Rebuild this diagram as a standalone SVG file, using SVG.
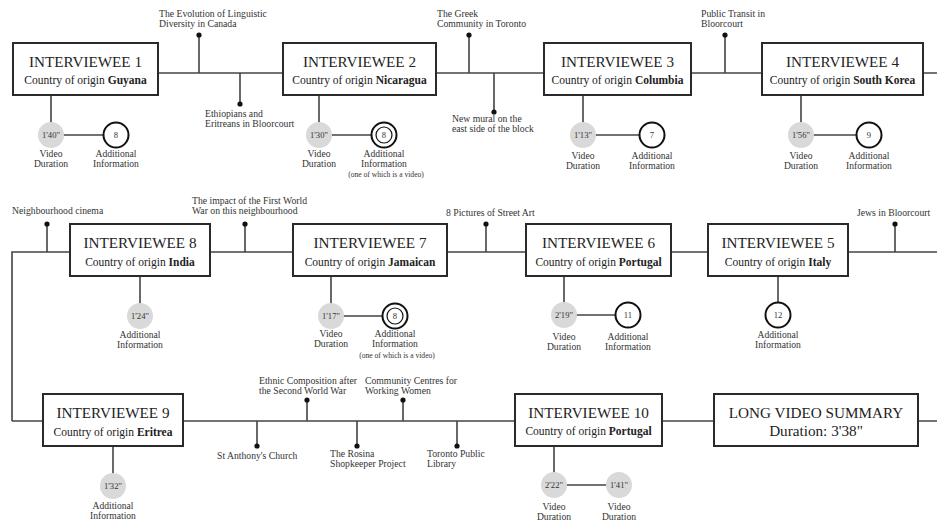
<svg xmlns="http://www.w3.org/2000/svg" width="937" height="521" viewBox="0 0 937 521">
<style>
text{font-family:"Liberation Serif","Times New Roman",serif;fill:#222}
.box{fill:#fff;stroke:#2a2a2a;stroke-width:2}
.t{font-size:15.2px;text-anchor:middle}
.c{font-size:11.5px;text-anchor:middle}
.ln{stroke:#444;stroke-width:1.6;fill:none}
.dot{fill:#111}
.tp{font-size:9.7px;fill:#333}
.lb{font-size:9.6px;text-anchor:middle;fill:#333}
.sm{font-size:7.6px;text-anchor:middle;fill:#333}
.gc{fill:#d9d9d9}
.wc{fill:#fff;stroke:#111;stroke-width:2}
.ic{fill:none;stroke:#111;stroke-width:1.2}
.ct{font-size:8.6px;text-anchor:middle;fill:#333}
</style>
<rect width="937" height="521" fill="#fff"/>
<g id="connectors">
  <path class="ln" d="M158 73H937"/>
  <path class="ln" d="M12 421V252H937"/>
  <path class="ln" d="M12 421H937"/>
  <path class="ln" d="M199 35V73M240 73V104M469 35V73M494 73V112M725 35V73"/>
  <path class="ln" d="M47 224V252M245 224V252M486 224V252M895 224V252"/>
  <path class="ln" d="M257 421V446M307 400V421M357 421V446M403 400V421M457 421V446"/>
  <path class="ln" d="M51 95V135H116"/>
  <path class="ln" d="M319 95V135H384"/>
  <path class="ln" d="M583 95V135H652"/>
  <path class="ln" d="M801 95V135H869"/>
  <path class="ln" d="M140 276V316"/>
  <path class="ln" d="M331 276V316H395"/>
  <path class="ln" d="M564 276V315H628"/>
  <path class="ln" d="M778 276V315"/>
  <path class="ln" d="M113 446V486"/>
  <path class="ln" d="M554 446V485H619"/>
  <g class="dot">
    <circle cx="199" cy="35" r="2.6"/><circle cx="240" cy="104" r="2.6"/>
    <circle cx="469" cy="35" r="2.6"/><circle cx="494" cy="112" r="2.6"/>
    <circle cx="725" cy="35" r="2.6"/>
    <circle cx="47" cy="224" r="2.6"/><circle cx="245" cy="224" r="2.6"/>
    <circle cx="486" cy="224" r="2.6"/><circle cx="895" cy="224" r="2.6"/>
    <circle cx="257" cy="446" r="2.6"/><circle cx="307" cy="400" r="2.6"/>
    <circle cx="357" cy="446" r="2.6"/><circle cx="403" cy="400" r="2.6"/>
    <circle cx="457" cy="446" r="2.6"/>
  </g>
</g>
<g id="topics">
  <text class="tp" x="159" y="17">The Evolution of Linguistic</text>
  <text class="tp" x="159" y="27">Diversity in Canada</text>
  <text class="tp" x="205" y="117">Ethiopians and</text>
  <text class="tp" x="205" y="127">Eritreans in Bloorcourt</text>
  <text class="tp" x="437" y="17">The Greek</text>
  <text class="tp" x="437" y="27">Community in Toronto</text>
  <text class="tp" x="452" y="122">New mural on the</text>
  <text class="tp" x="452" y="132">east side of the block</text>
  <text class="tp" x="701" y="17">Public Transit in</text>
  <text class="tp" x="701" y="27">Bloorcourt</text>
  <text class="tp" x="12" y="214">Neighbourhood cinema</text>
  <text class="tp" x="192" y="204">The impact of the First World</text>
  <text class="tp" x="192" y="214">War on this neighbourhood</text>
  <text class="tp" x="446" y="216">8 Pictures of Street Art</text>
  <text class="tp" x="857" y="216">Jews in Bloorcourt</text>
  <text class="tp" x="259" y="384">Ethnic Composition after</text>
  <text class="tp" x="259" y="394">the Second World War</text>
  <text class="tp" x="365" y="384">Community Centres for</text>
  <text class="tp" x="365" y="394">Working Women</text>
  <text class="tp" x="217" y="459">St Anthony's Church</text>
  <text class="tp" x="330" y="457">The Rosina</text>
  <text class="tp" x="330" y="467">Shopkeeper Project</text>
  <text class="tp" x="427" y="457">Toronto Public</text>
  <text class="tp" x="427" y="467">Library</text>
</g>
<g id="interviewee1">
  <rect class="box" x="13" y="43" width="145" height="52"/>
  <text class="t" x="85.5" y="66.5">INTERVIEWEE 1</text>
  <text class="c" x="85.5" y="83.5">Country of origin <tspan font-weight="bold">Guyana</tspan></text>
  <circle class="gc" cx="51" cy="135" r="13"/><text class="ct" x="51" y="138">1'40"</text>
  <circle class="wc" cx="116" cy="135" r="12.5"/><text class="ct" x="116" y="138">8</text>
  <text class="lb" x="51" y="157">Video</text><text class="lb" x="51" y="167">Duration</text>
  <text class="lb" x="116" y="157">Additional</text><text class="lb" x="116" y="167">Information</text>
</g>
<g id="interviewee2">
  <rect class="box" x="283" y="43" width="153" height="52"/>
  <text class="t" x="359.5" y="66.5">INTERVIEWEE 2</text>
  <text class="c" x="359.5" y="83.5">Country of origin <tspan font-weight="bold">Nicaragua</tspan></text>
  <circle class="gc" cx="319" cy="135" r="13"/><text class="ct" x="319" y="138">1'30"</text>
  <circle class="wc" cx="384" cy="135" r="12.5"/><circle class="ic" cx="384" cy="135" r="8"/><text class="ct" x="384" y="138">8</text>
  <text class="lb" x="319" y="157">Video</text><text class="lb" x="319" y="167">Duration</text>
  <text class="lb" x="384" y="157">Additional</text><text class="lb" x="384" y="167">Information</text>
  <text class="sm" x="386" y="177">(one of which is a video)</text>
</g>
<g id="interviewee3">
  <rect class="box" x="544" y="43" width="147" height="52"/>
  <text class="t" x="617.5" y="66.5">INTERVIEWEE 3</text>
  <text class="c" x="617.5" y="83.5">Country of origin <tspan font-weight="bold">Columbia</tspan></text>
  <circle class="gc" cx="583" cy="135" r="13"/><text class="ct" x="583" y="138">1'13"</text>
  <circle class="wc" cx="652" cy="135" r="12.5"/><text class="ct" x="652" y="138">7</text>
  <text class="lb" x="583" y="159">Video</text><text class="lb" x="583" y="169">Duration</text>
  <text class="lb" x="652" y="159">Additional</text><text class="lb" x="652" y="169">Information</text>
</g>
<g id="interviewee4">
  <rect class="box" x="762" y="43" width="161" height="52"/>
  <text class="t" x="842.5" y="66.5">INTERVIEWEE 4</text>
  <text class="c" x="842.5" y="83.5">Country of origin <tspan font-weight="bold">South Korea</tspan></text>
  <circle class="gc" cx="801" cy="135" r="13"/><text class="ct" x="801" y="138">1'56"</text>
  <circle class="wc" cx="869" cy="135" r="12.5"/><text class="ct" x="869" y="138">9</text>
  <text class="lb" x="801" y="159">Video</text><text class="lb" x="801" y="169">Duration</text>
  <text class="lb" x="869" y="159">Additional</text><text class="lb" x="869" y="169">Information</text>
</g>
<g id="interviewee8">
  <rect class="box" x="70" y="224" width="140" height="52"/>
  <text class="t" x="140" y="247.5">INTERVIEWEE 8</text>
  <text class="c" x="140" y="265.5">Country of origin <tspan font-weight="bold">India</tspan></text>
  <circle class="gc" cx="140" cy="316" r="13"/><text class="ct" x="140" y="319">1'24"</text>
  <text class="lb" x="140" y="338">Additional</text><text class="lb" x="140" y="348">Information</text>
</g>
<g id="interviewee7">
  <rect class="box" x="293" y="224" width="154" height="52"/>
  <text class="t" x="370" y="247.5">INTERVIEWEE 7</text>
  <text class="c" x="370" y="265.5">Country of origin <tspan font-weight="bold">Jamaican</tspan></text>
  <circle class="gc" cx="331" cy="316" r="13"/><text class="ct" x="331" y="319">1'17"</text>
  <circle class="wc" cx="395" cy="316" r="12.5"/><circle class="ic" cx="395" cy="316" r="8"/><text class="ct" x="395" y="319">8</text>
  <text class="lb" x="331" y="337">Video</text><text class="lb" x="331" y="347">Duration</text>
  <text class="lb" x="395" y="337">Additional</text><text class="lb" x="395" y="347">Information</text>
  <text class="sm" x="397" y="358">(one of which is a video)</text>
</g>
<g id="interviewee6">
  <rect class="box" x="526" y="224" width="145" height="52"/>
  <text class="t" x="598.5" y="247.5">INTERVIEWEE 6</text>
  <text class="c" x="598.5" y="265.5">Country of origin <tspan font-weight="bold">Portugal</tspan></text>
  <circle class="gc" cx="564" cy="315" r="13"/><text class="ct" x="564" y="318">2'19"</text>
  <circle class="wc" cx="628" cy="315" r="12.5"/><text class="ct" x="628" y="318">11</text>
  <text class="lb" x="564" y="340">Video</text><text class="lb" x="564" y="350">Duration</text>
  <text class="lb" x="628" y="340">Additional</text><text class="lb" x="628" y="350">Information</text>
</g>
<g id="interviewee5">
  <rect class="box" x="708" y="224" width="140" height="52"/>
  <text class="t" x="778" y="247.5">INTERVIEWEE 5</text>
  <text class="c" x="778" y="265.5">Country of origin <tspan font-weight="bold">Italy</tspan></text>
  <circle class="wc" cx="778" cy="315" r="12.5"/><text class="ct" x="778" y="318">12</text>
  <text class="lb" x="778" y="338">Additional</text><text class="lb" x="778" y="348">Information</text>
</g>
<g id="interviewee9">
  <rect class="box" x="43" y="394" width="140" height="52"/>
  <text class="t" x="113" y="417.5">INTERVIEWEE 9</text>
  <text class="c" x="113" y="435.5">Country of origin <tspan font-weight="bold">Eritrea</tspan></text>
  <circle class="gc" cx="113" cy="486" r="13"/><text class="ct" x="113" y="489">1'32"</text>
  <text class="lb" x="113" y="509">Additional</text><text class="lb" x="113" y="519">Information</text>
</g>
<g id="interviewee10">
  <rect class="box" x="515" y="394" width="147" height="52"/>
  <text class="t" x="588.5" y="418">INTERVIEWEE 10</text>
  <text class="c" x="588.5" y="434.5">Country of origin <tspan font-weight="bold">Portugal</tspan></text>
  <circle class="gc" cx="554" cy="485" r="13"/><text class="ct" x="554" y="488">2'22"</text>
  <circle class="gc" cx="619" cy="485" r="13"/><text class="ct" x="619" y="488">1'41"</text>
  <text class="lb" x="554" y="510">Video</text><text class="lb" x="554" y="520">Duration</text>
  <text class="lb" x="619" y="510">Video</text><text class="lb" x="619" y="520">Duration</text>
</g>
<g id="summary">
  <rect class="box" x="714" y="394" width="204" height="52"/>
  <text class="t" x="816" y="418">LONG VIDEO SUMMARY</text>
  <text class="t" x="816" y="436">Duration: 3'38"</text>
</g>
</svg>
